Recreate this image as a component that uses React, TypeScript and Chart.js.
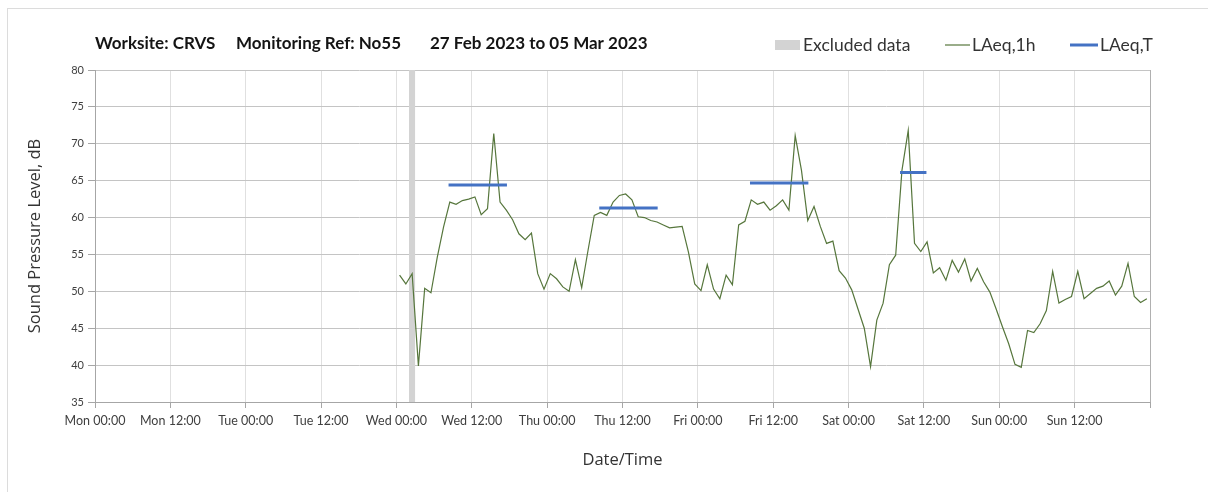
import React, { useEffect, useRef } from 'react';
import { Chart, registerables } from 'chart.js';

Chart.register(...registerables);

const TITLE_PARTS = ['Worksite: CRVS', 'Monitoring Ref: No55', '27 Feb 2023 to 05 Mar 2023'];

const X_TICK_LABELS = [
  'Mon 00:00', 'Mon 12:00', 'Tue 00:00', 'Tue 12:00', 'Wed 00:00', 'Wed 12:00',
  'Thu 00:00', 'Thu 12:00', 'Fri 00:00', 'Fri 12:00', 'Sat 00:00', 'Sat 12:00',
  'Sun 00:00', 'Sun 12:00', '',
];

// hours since Mon 00:00; first hourly value plotted at Wed 00:30
const LAEQ_1H_START_HOUR = 48.5;
const LAEQ_1H = [
  52.2, 51.0, 52.4, 39.9, 50.4, 49.8, 54.6, 58.7, 62.1, 61.8,
  62.3, 62.5, 62.8, 60.4, 61.2, 71.4, 62.1, 61.0, 59.7, 57.8,
  57.0, 57.9, 52.4, 50.3, 52.4, 51.7, 50.6, 50.0, 54.3, 50.5,
  55.5, 60.3, 60.7, 60.3, 62.1, 63.0, 63.2, 62.4, 60.1, 60.0,
  59.6, 59.4, 59.0, 58.6, 58.7, 58.8, 55.3, 51.0, 50.1, 53.6,
  50.3, 49.0, 52.2, 50.9, 59.0, 59.5, 62.4, 61.8, 62.1, 61.0,
  61.6, 62.4, 61.0, 71.1, 66.4, 59.6, 61.5, 58.8, 56.5, 56.8,
  52.8, 51.8, 50.2, 47.6, 45.0, 39.8, 46.1, 48.4, 53.6, 54.9,
  66.4, 71.8, 56.5, 55.4, 56.7, 52.5, 53.2, 51.5, 54.2, 52.6,
  54.4, 51.4, 53.1, 51.3, 49.9, 47.6, 45.2, 42.9, 40.1, 39.7,
  44.7, 44.4, 45.6, 47.4, 52.7, 48.4, 48.9, 49.3, 52.7, 49.0,
  49.7, 50.4, 50.7, 51.4, 49.5, 50.7, 53.8, 49.3, 48.5, 49.0,
];

// LAeq,T periods (start hour, end hour since Mon 00:00) and levels
const LAEQ_T_START = [56.3, 80.3, 104.3, 128.2];
const LAEQ_T_END = [65.6, 89.6, 113.6, 132.4];
const LAEQ_T_VALUES = [64.4, 61.3, 64.7, 66.1];

// excluded data period (hours)
const EXCLUDED_START = 50;
const EXCLUDED_END = 51;

const Y_MIN = 35;
const Y_MAX = 80;
const X_MIN = 0;
const X_MAX = 168;

const headerPlugin = {
  id: 'header',
  afterDraw(chart: any) {
    const { ctx } = chart;
    const ds = chart.data.datasets;
    ctx.save();
    ctx.textBaseline = 'alphabetic';
    ctx.textAlign = 'left';
    ctx.fillStyle = '#141414';
    ctx.font = 'bold 17px Lato';
    const titleX = [95, 236, 430];
    TITLE_PARTS.forEach((t, i) => ctx.fillText(t, titleX[i], 49));

    // legend
    ctx.font = '17.5px Lato';
    const symX = [775, 945, 1070];
    const symW = [25, 25, 28];
    const textX = [803, 972, 1100];
    const cy = 45;
    ds.forEach((d: any, i: number) => {
      if (i === 0) {
        ctx.fillStyle = d.backgroundColor;
        ctx.fillRect(symX[i], cy - 5, symW[i], 10);
      } else {
        ctx.strokeStyle = d.borderColor;
        ctx.lineWidth = d.borderWidth;
        ctx.beginPath();
        ctx.moveTo(symX[i], cy);
        ctx.lineTo(symX[i] + symW[i], cy);
        ctx.stroke();
      }
      ctx.fillStyle = '#333333';
      ctx.fillText(d.label, textX[i], 51);
    });
    ctx.restore();
  },
};

export default function App() {
  const ref = useRef<HTMLCanvasElement | null>(null);

  useEffect(() => {
    if (!ref.current) return;
    const lineData = LAEQ_1H.map((v, i) => ({ x: LAEQ_1H_START_HOUR + i, y: v }));
    const tData: any[] = [];
    LAEQ_T_VALUES.forEach((v, i) => {
      tData.push({ x: LAEQ_T_START[i], y: v });
      tData.push({ x: LAEQ_T_END[i], y: v });
      tData.push({ x: LAEQ_T_END[i] + 0.1, y: null });
    });

    const chart = new Chart(ref.current, {
      type: 'line',
      data: {
        datasets: [
          {
            label: 'Excluded data',
            data: [
              { x: EXCLUDED_START, y: Y_MAX },
              { x: EXCLUDED_END, y: Y_MAX },
            ],
            fill: 'start',
            backgroundColor: '#d3d3d3',
            borderColor: 'rgba(0,0,0,0)',
            borderWidth: 0,
            pointRadius: 0,
            order: 3,
          },
          {
            label: 'LAeq,1h',
            data: lineData,
            borderColor: '#56763c',
            borderWidth: 1.2,
            pointRadius: 0,
            tension: 0,
            fill: false,
            order: 2,
          },
          {
            label: 'LAeq,T',
            data: tData,
            borderColor: '#4472c4',
            borderWidth: 3,
            pointRadius: 0,
            spanGaps: false,
            fill: false,
            order: 1,
          },
        ],
      },
      options: {
        responsive: false,
        animation: false,
        devicePixelRatio: 1,
        layout: { padding: { left: 0, right: 58, top: 70, bottom: 0 } },
        plugins: {
          legend: { display: false },
          title: { display: false },
          tooltip: { enabled: false },
        },
        scales: {
          x: {
            type: 'linear',
            min: X_MIN,
            max: X_MAX,
            afterFit: (s: any) => { s.height = 90; },
            ticks: {
              stepSize: 12,
              autoSkip: false,
              maxRotation: 0,
              padding: 5,
              color: '#404040',
              font: { family: 'Lato', size: 12.5 },
              callback: (v: any) => X_TICK_LABELS[Math.round(Number(v) / 12)] ?? '',
            },
            grid: {
              color: (c: any) => (c.index === X_TICK_LABELS.length - 1 ? '#b0b0b0' : '#e0e0e0'),
              tickColor: '#a6a6a6',
              tickLength: 6,
            },
            border: { color: '#a6a6a6' },
            title: {
              display: true,
              text: 'Date/Time',
              color: '#333333',
              font: { family: 'Open Sans', size: 16.5 },
              padding: { top: 0, bottom: 22 },
            },
          },
          y: {
            min: Y_MIN,
            max: Y_MAX,
            afterFit: (s: any) => { s.width = 95; },
            ticks: {
              stepSize: 5,
              padding: 4,
              color: '#404040',
              font: { family: 'Lato', size: 11 },
            },
            grid: {
              color: '#c4c4c4',
              tickColor: '#a6a6a6',
              tickLength: 7,
            },
            border: { color: '#a6a6a6' },
            title: {
              display: true,
              text: 'Sound Pressure Level, dB',
              color: '#333333',
              font: { family: 'Open Sans', size: 16.5 },
              padding: { top: 25, bottom: 0 },
            },
          },
        },
      },
      plugins: [headerPlugin],
    } as any);
    return () => chart.destroy();
  }, []);

  return (
    <div style={{ position: 'fixed', left: 0, top: 0, width: 1208, height: 492, background: '#ffffff', overflow: 'hidden' }}>
      <div
        style={{
          position: 'absolute', left: 7, top: 8, width: 1201, height: 484,
          borderTop: '1px solid #dcdcdc', borderLeft: '1px solid #dcdcdc', boxSizing: 'border-box',
        }}
      />
      <canvas ref={ref} width={1208} height={492} style={{ position: 'absolute', left: 0, top: 0, width: 1208, height: 492 }} />
    </div>
  );
}
